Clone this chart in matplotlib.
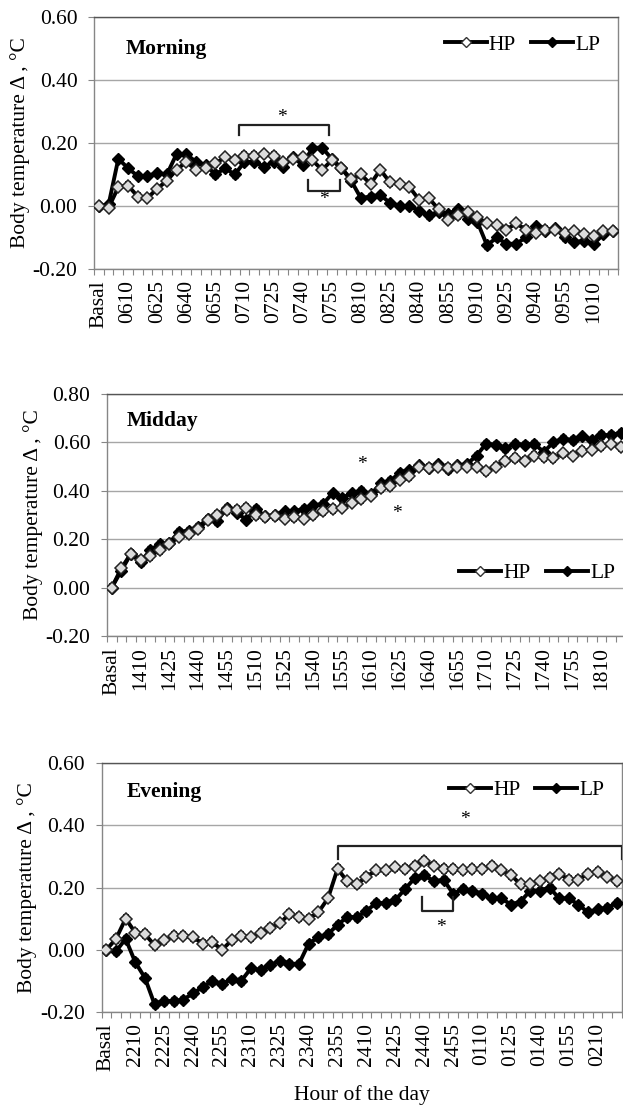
import matplotlib
matplotlib.use('Agg')
import matplotlib.pyplot as plt
from matplotlib.lines import Line2D
import numpy as np

plt.rcParams['font.family'] = ['Liberation Serif', 'DejaVu Serif']
plt.rcParams['axes.unicode_minus'] = False

# ---- data (deviation from basal, °C), one point per 5 min ----
morning_hp = [0.00, -0.005, 0.06, 0.065, 0.03, 0.025, 0.055, 0.08, 0.115, 0.14,
              0.115, 0.12, 0.135, 0.155, 0.145, 0.16, 0.16, 0.165, 0.16, 0.14,
              0.15, 0.155, 0.145, 0.115, 0.145, 0.12, 0.085, 0.10, 0.07, 0.115,
              0.075, 0.07, 0.06, 0.02, 0.025, -0.01, -0.045, -0.03, -0.02, -0.035,
              -0.055, -0.06, -0.075, -0.055, -0.075, -0.085, -0.075, -0.075, -0.085, -0.08,
              -0.09, -0.095, -0.08, -0.08]
morning_lp = [0.00, 0.005, 0.15, 0.12, 0.095, 0.095, 0.105, 0.10, 0.165, 0.165,
              0.14, 0.13, 0.10, 0.12, 0.10, 0.14, 0.14, 0.125, 0.14, 0.125,
              0.155, 0.13, 0.185, 0.185, 0.15, 0.12, 0.08, 0.025, 0.03, 0.035,
              0.01, 0.00, 0.00, -0.015, -0.03, -0.02, -0.025, -0.01, -0.04, -0.05,
              -0.125, -0.10, -0.12, -0.12, -0.10, -0.065, -0.08, -0.07, -0.10, -0.115,
              -0.11, -0.12, -0.09, -0.08]

midday_hp = [0.00, 0.08, 0.14, 0.115, 0.13, 0.155, 0.18, 0.21, 0.22, 0.24,
             0.28, 0.30, 0.32, 0.32, 0.33, 0.30, 0.29, 0.295, 0.285, 0.29,
             0.285, 0.30, 0.315, 0.325, 0.33, 0.35, 0.365, 0.38, 0.41, 0.42,
             0.445, 0.46, 0.50, 0.495, 0.50, 0.495, 0.50, 0.50, 0.50, 0.48,
             0.50, 0.525, 0.535, 0.525, 0.545, 0.54, 0.535, 0.555, 0.545, 0.565,
             0.57, 0.585, 0.595, 0.58]
midday_lp = [0.00, 0.07, 0.14, 0.105, 0.155, 0.18, 0.185, 0.23, 0.235, 0.25,
             0.285, 0.275, 0.33, 0.31, 0.28, 0.325, 0.295, 0.30, 0.315, 0.315,
             0.325, 0.34, 0.345, 0.39, 0.37, 0.39, 0.40, 0.385, 0.43, 0.44,
             0.475, 0.485, 0.505, 0.495, 0.51, 0.49, 0.505, 0.51, 0.545, 0.595,
             0.59, 0.575, 0.595, 0.59, 0.595, 0.56, 0.60, 0.615, 0.61, 0.625,
             0.61, 0.63, 0.63, 0.64]

evening_hp = [0.00, 0.035, 0.10, 0.055, 0.05, 0.015, 0.03, 0.045, 0.045, 0.04,
              0.02, 0.025, 0.00, 0.03, 0.045, 0.04, 0.055, 0.07, 0.085, 0.115,
              0.105, 0.10, 0.12, 0.165, 0.26, 0.22, 0.21, 0.235, 0.255, 0.255,
              0.265, 0.26, 0.27, 0.285, 0.27, 0.26, 0.26, 0.255, 0.26, 0.26,
              0.27, 0.255, 0.24, 0.21, 0.21, 0.22, 0.23, 0.245, 0.225, 0.225,
              0.245, 0.25, 0.235, 0.22]
evening_lp = [0.00, -0.005, 0.035, -0.04, -0.09, -0.175, -0.165, -0.165, -0.16, -0.14,
              -0.12, -0.10, -0.11, -0.095, -0.10, -0.06, -0.065, -0.05, -0.035, -0.045,
              -0.045, 0.02, 0.04, 0.05, 0.08, 0.105, 0.105, 0.125, 0.15, 0.15,
              0.16, 0.195, 0.23, 0.24, 0.22, 0.225, 0.18, 0.195, 0.19, 0.18,
              0.165, 0.165, 0.145, 0.155, 0.19, 0.19, 0.20, 0.165, 0.165, 0.145,
              0.12, 0.13, 0.135, 0.15]

# error bars (SE), roughly constant in the picture
morning_err = 0.01
midday_err = 0.015
evening_err = 0.012

# tick labels, shown every third point
morning_labels = ['Basal', '0610', '0625', '0640', '0655', '0710', '0725', '0740', '0755',
                  '0810', '0825', '0840', '0855', '0910', '0925', '0940', '0955', '1010']
midday_labels = ['Basal', '1410', '1425', '1440', '1455', '1510', '1525', '1540', '1555',
                 '1610', '1625', '1640', '1655', '1710', '1725', '1740', '1755', '1810']
evening_labels = ['Basal', '2210', '2225', '2240', '2255', '2310', '2325', '2340', '2355',
                  '2410', '2425', '2440', '2455', '0110', '0125', '0140', '0155', '0210']

FS = 15.5
GRID = '#A6A6A6'
SPINE = '#868686'
HP_FACE = '#DCDCDC'

fig = plt.figure(figsize=(6.23, 11.06), dpi=100, facecolor='white')


def draw_panel(rect, hp, lp, err, labels, ylim, yticks, title, title_pos, leg_anchor):
    ax = fig.add_axes(rect)
    x = np.arange(len(hp))
    ax.errorbar(x, lp, yerr=err, color='black', lw=2.8, marker='D', ms=6.5,
                mfc='black', mec='black', ecolor='black', elinewidth=0.9,
                capsize=2.5, capthick=0.9, zorder=3)
    ax.errorbar(x, hp, yerr=err, color='black', lw=2.8, marker='D', ms=6.5,
                mfc=HP_FACE, mec='#222222', mew=1.1, ecolor='black', elinewidth=0.9,
                capsize=2.5, capthick=0.9, zorder=4)

    ax.set_xlim(-0.5, len(hp) - 0.5)
    ax.set_ylim(*ylim)
    ax.set_yticks(yticks)
    ax.set_yticklabels([f'{v:.2f}' for v in yticks], fontsize=FS)
    ax.yaxis.grid(True, color=GRID, lw=1.0)
    ax.set_axisbelow(True)

    ax.set_xticks(np.arange(0, len(hp), 3))
    ax.set_xticklabels(labels, rotation=90, fontsize=FS)
    ax.set_xticks(np.arange(-0.5, len(hp), 1), minor=True)
    ax.tick_params(axis='x', which='major', length=0, pad=8)
    ax.tick_params(axis='x', which='minor', length=4, color=SPINE, width=0.8)
    ax.tick_params(axis='y', length=4, color=SPINE, width=0.8, pad=8)
    for s in ax.spines.values():
        s.set_color(SPINE)
        s.set_linewidth(1.0)
    ax.spines['top'].set_color('#555555')

    ax.set_ylabel('Body temperature Δ , °C', fontsize=FS, labelpad=2)
    ax.text(title_pos[0], title_pos[1], title, transform=ax.transAxes,
            fontsize=FS, fontweight='bold', va='center', ha='left')

    handles = [Line2D([], [], color='black', lw=2.8, marker='D', ms=5.5,
                      mfc='white', mec='#333333', mew=1.0),
               Line2D([], [], color='black', lw=2.8, marker='D', ms=5.5,
                      mfc='black', mec='black')]
    ax.legend(handles, ['HP', 'LP'], ncol=2, frameon=False, fontsize=FS,
              loc='center right', bbox_to_anchor=leg_anchor, bbox_transform=ax.transAxes,
              handlelength=1.95, handletextpad=0.1, columnspacing=0.7, borderaxespad=0,
              borderpad=0)
    return ax


def bracket(ax, x0, x1, y_bar, y_end, star_x, star_y):
    ax.plot([x0, x0, x1, x1], [y_end, y_bar, y_bar, y_end], color='#222222', lw=1.6, zorder=5)
    ax.text(star_x, star_y, '*', fontsize=14, ha='center', va='center')


# ---- morning ----
ax1 = draw_panel([0.151, 0.7568, 0.841, 0.2278], morning_hp, morning_lp, morning_err,
                 morning_labels, (-0.2, 0.6), [-0.2, 0.0, 0.2, 0.4, 0.6],
                 'Morning', (0.061, 0.875), (0.966, 0.89))
bracket(ax1, 14.4, 23.7, 0.258, 0.225, 18.9, 0.28)
bracket(ax1, 21.5, 24.8, 0.048, 0.082, 23.2, 0.02)

# ---- midday ----
ax2 = draw_panel([0.1717, 0.4250, 0.832, 0.2188], midday_hp, midday_lp, midday_err,
                 midday_labels, (-0.2, 0.8), [-0.2, 0.0, 0.2, 0.4, 0.6, 0.8],
                 'Midday', (0.039, 0.89), (0.98, 0.26))
ax2.text(26.1, 0.51, '*', fontsize=14, ha='center', va='center')
ax2.text(29.7, 0.305, '*', fontsize=14, ha='center', va='center')

# ---- evening ----
ax3 = draw_panel([0.163, 0.0850, 0.835, 0.2251], evening_hp, evening_lp, evening_err,
                 evening_labels, (-0.2, 0.6), [-0.2, 0.0, 0.2, 0.4, 0.6],
                 'Evening', (0.049, 0.885), (0.967, 0.891))
bracket(ax3, 24.0, 53.5, 0.334, 0.293, 37.2, 0.42)
bracket(ax3, 32.8, 36.0, 0.125, 0.17, 34.7, 0.07)
ax3.set_xlabel('Hour of the day', fontsize=FS, labelpad=10)

fig.savefig('out.png', dpi=100, facecolor='white')
